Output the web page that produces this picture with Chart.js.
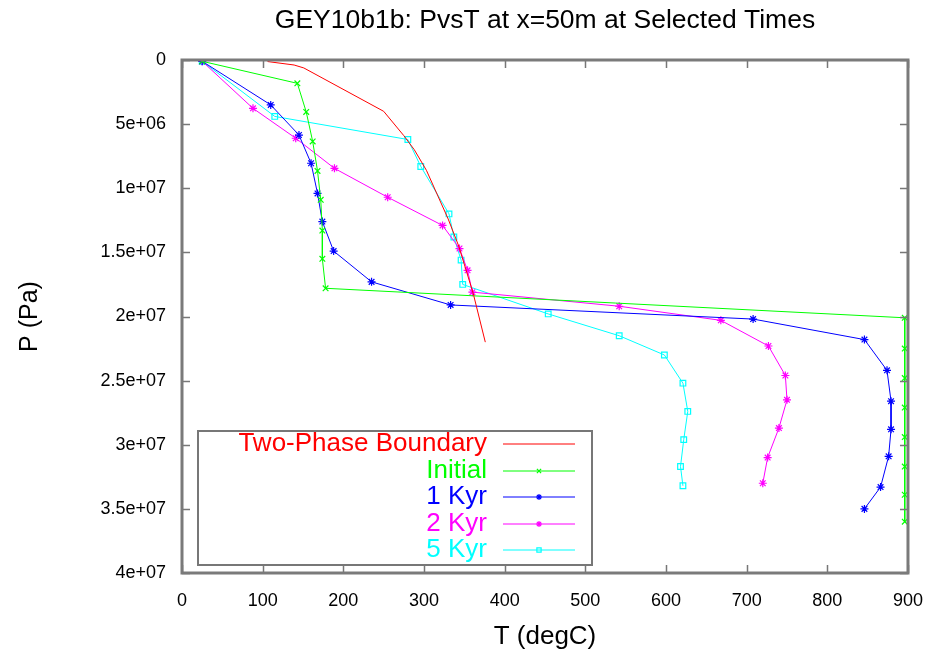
<!DOCTYPE html>
<html>
<head>
<meta charset="utf-8">
<script src="https://cdn.jsdelivr.net/npm/chart.js@4/dist/chart.umd.min.js"></script>
<style>
  html, body { margin: 0; padding: 0; background: #fff; }
  #chart { display: block; }
</style>
</head>
<body>
<canvas id="chart" width="940" height="658"></canvas>
<script>
const chartTitle = 'GEY10b1b: PvsT at x=50m at Selected Times';
const seriesNames = ['Two-Phase Boundary', 'Initial', '1 Kyr', '2 Kyr', '5 Kyr'];

// T (degC) / P (Pa)
const boundaryT = [106, 139, 151, 250, 275, 288, 303, 330, 343, 361, 376];
const boundaryP = [1.2e5, 3.9e5, 6.2e5, 4.0e6, 5.9e6, 7.0e6, 8.6e6, 1.24e7, 1.45e7, 1.82e7, 2.2e7];

const initialT = [25, 143, 154, 162, 168, 172, 174, 174, 178, 896, 896, 896, 896, 896, 896, 896, 896];
const initialP = [1.0e5, 1.82e6, 4.05e6, 6.35e6, 8.65e6, 1.09e7, 1.33e7, 1.55e7, 1.78e7, 2.01e7, 2.25e7, 2.48e7, 2.71e7, 2.94e7, 3.17e7, 3.39e7, 3.6e7];

const kyr1T = [25, 110, 145, 160, 168, 174, 188, 235, 333, 708, 846, 874, 879, 879, 876, 866, 846];
const kyr1P = [1.0e5, 3.5e6, 5.85e6, 8.05e6, 1.04e7, 1.26e7, 1.49e7, 1.73e7, 1.91e7, 2.02e7, 2.18e7, 2.42e7, 2.66e7, 2.88e7, 3.09e7, 3.33e7, 3.5e7];

const kyr2T = [25, 88, 141, 189, 255, 323, 344, 354, 360, 542, 668, 727, 748, 750, 740, 726, 720];
const kyr2P = [1.0e5, 3.77e6, 6.1e6, 8.45e6, 1.07e7, 1.29e7, 1.47e7, 1.64e7, 1.81e7, 1.92e7, 2.03e7, 2.23e7, 2.46e7, 2.65e7, 2.87e7, 3.1e7, 3.3e7];

const kyr5T = [25, 115, 280, 296, 331, 337, 346, 348, 454, 542, 598, 621, 627, 622, 618, 621];
const kyr5P = [1.0e5, 4.4e6, 6.2e6, 8.3e6, 1.2e7, 1.38e7, 1.56e7, 1.75e7, 1.98e7, 2.15e7, 2.3e7, 2.52e7, 2.74e7, 2.96e7, 3.17e7, 3.32e7];

const xTickLabels = ['0', '100', '200', '300', '400', '500', '600', '700', '800', '900'];
const yTickLabels = ['0', '5e+06', '1e+07', '1.5e+07', '2e+07', '2.5e+07', '3e+07', '3.5e+07', '4e+07'];

const FONT = "'Liberation Sans', Arial, Helvetica, sans-serif";

function pts(ts, ps) {
    return ts.map((t, i) => ({ x: t, y: ps[i] }));
}

function series(label, ts, ps, color, style) {
    return {
        label: label,
        data: pts(ts, ps),
        showLine: true,
        borderColor: color,
        backgroundColor: 'rgba(0,0,0,0)',
        borderWidth: 1,
        pointStyle: style || false,
        pointRadius: style ? 4 : 0,
        pointBorderColor: color,
        pointBackgroundColor: style === 'star' ? color : 'rgba(0,0,0,0)',
        pointBorderWidth: 1.2,
        tension: 0
    };
}

const datasets = [
    series(seriesNames[0], boundaryT, boundaryP, '#ff0000', null),
    series(seriesNames[1], initialT, initialP, '#00ff00', 'crossRot'),
    series(seriesNames[2], kyr1T, kyr1P, '#0000ff', 'star'),
    series(seriesNames[3], kyr2T, kyr2P, '#ff00ff', 'star'),
    series(seriesNames[4], kyr5T, kyr5P, '#00ffff', 'rect')
];

// frame with inward ticks on all 4 sides + gnuplot-like key box
const framePlugin = {
    id: 'frame',
    afterDatasetsDraw(chart) {
        const ctx = chart.ctx;
        const a = chart.chartArea;
        const xs = chart.scales.x, ys = chart.scales.y;
        const tl = 8;
        ctx.save();
        ctx.strokeStyle = '#777';
        ctx.lineWidth = 1.5;
        xs.ticks.forEach(t => {
            const px = Math.round(xs.getPixelForValue(t.value)) + 0.5;
            ctx.beginPath();
            ctx.moveTo(px, a.bottom); ctx.lineTo(px, a.bottom - tl);
            ctx.moveTo(px, a.top); ctx.lineTo(px, a.top + tl);
            ctx.stroke();
        });
        ys.ticks.forEach(t => {
            const py = Math.round(ys.getPixelForValue(t.value)) + 0.5;
            ctx.beginPath();
            ctx.moveTo(a.left, py); ctx.lineTo(a.left + tl, py);
            ctx.moveTo(a.right, py); ctx.lineTo(a.right - tl, py);
            ctx.stroke();
        });
        ctx.lineWidth = 3;
        ctx.strokeStyle = '#7a7a7a';
        ctx.strokeRect(a.left, a.top, a.right - a.left, a.bottom - a.top);

        // key
        const bx = 198, by = 431, bw = 394, bh = 134;
        ctx.fillStyle = '#fff';
        ctx.fillRect(bx, by, bw, bh);
        ctx.lineWidth = 2;
        ctx.strokeStyle = '#777';
        ctx.strokeRect(bx, by, bw, bh);
        ctx.font = '26px ' + FONT;
        ctx.textAlign = 'right';
        ctx.textBaseline = 'middle';
        chart.data.datasets.forEach((ds, i) => {
            const y = Math.round(444 + i * 26.5);
            ctx.fillStyle = ds.borderColor;
            ctx.fillText(ds.label, 487, y);
            ctx.strokeStyle = ds.borderColor;
            ctx.lineWidth = 1;
            ctx.beginPath();
            ctx.moveTo(503, y); ctx.lineTo(575, y);
            ctx.stroke();
            if (ds.pointStyle && Chart.helpers && Chart.helpers.drawPoint) {
                ctx.fillStyle = ds.pointBackgroundColor;
                ctx.lineWidth = 1.2;
                Chart.helpers.drawPoint(ctx, {
                    pointStyle: ds.pointStyle, radius: 3, borderWidth: 1.2, rotation: 0
                }, 539, y);
            }
        });
        ctx.restore();
    }
};

const chart = new Chart(document.getElementById('chart'), {
    type: 'scatter',
    data: { datasets: datasets },
    options: {
        responsive: false,
        animation: false,
        devicePixelRatio: 1,
        layout: { padding: { left: 0, right: 28, top: 0, bottom: 0 } },
        plugins: {
            legend: { display: false },
            tooltip: { enabled: false },
            title: {
                display: true,
                text: chartTitle,
                fullSize: false,
                color: '#000',
                font: { family: FONT, size: 26.5, weight: 'normal' },
                padding: { top: 5, bottom: 23.2 }
            }
        },
        scales: {
            x: {
                type: 'linear',
                min: 0, max: 900,
                grid: { display: false, drawTicks: false },
                border: { display: false },
                ticks: {
                    stepSize: 100,
                    padding: 17,
                    color: '#000',
                    font: { family: FONT, size: 18 },
                    callback: v => xTickLabels[Math.round(v / 100)]
                },
                title: {
                    display: true,
                    text: 'T (degC)',
                    color: '#000',
                    font: { family: FONT, size: 26 },
                    padding: { top: 0, bottom: 6 }
                },
                afterFit: s => { s.height = 85; }
            },
            y: {
                type: 'linear',
                reverse: true,
                min: 0, max: 4e7,
                grid: { display: false, drawTicks: false },
                border: { display: false },
                ticks: {
                    stepSize: 5e6,
                    padding: 16,
                    color: '#000',
                    font: { family: FONT, size: 18 },
                    callback: v => yTickLabels[Math.round(v / 5e6)]
                },
                title: {
                    display: true,
                    text: 'P (Pa)',
                    color: '#000',
                    font: { family: FONT, size: 25 },
                    padding: { top: 15, bottom: 0 }
                },
                afterFit: s => { s.width = 182; }
            }
        }
    },
    plugins: [framePlugin]
});
</script>
</body>
</html>
